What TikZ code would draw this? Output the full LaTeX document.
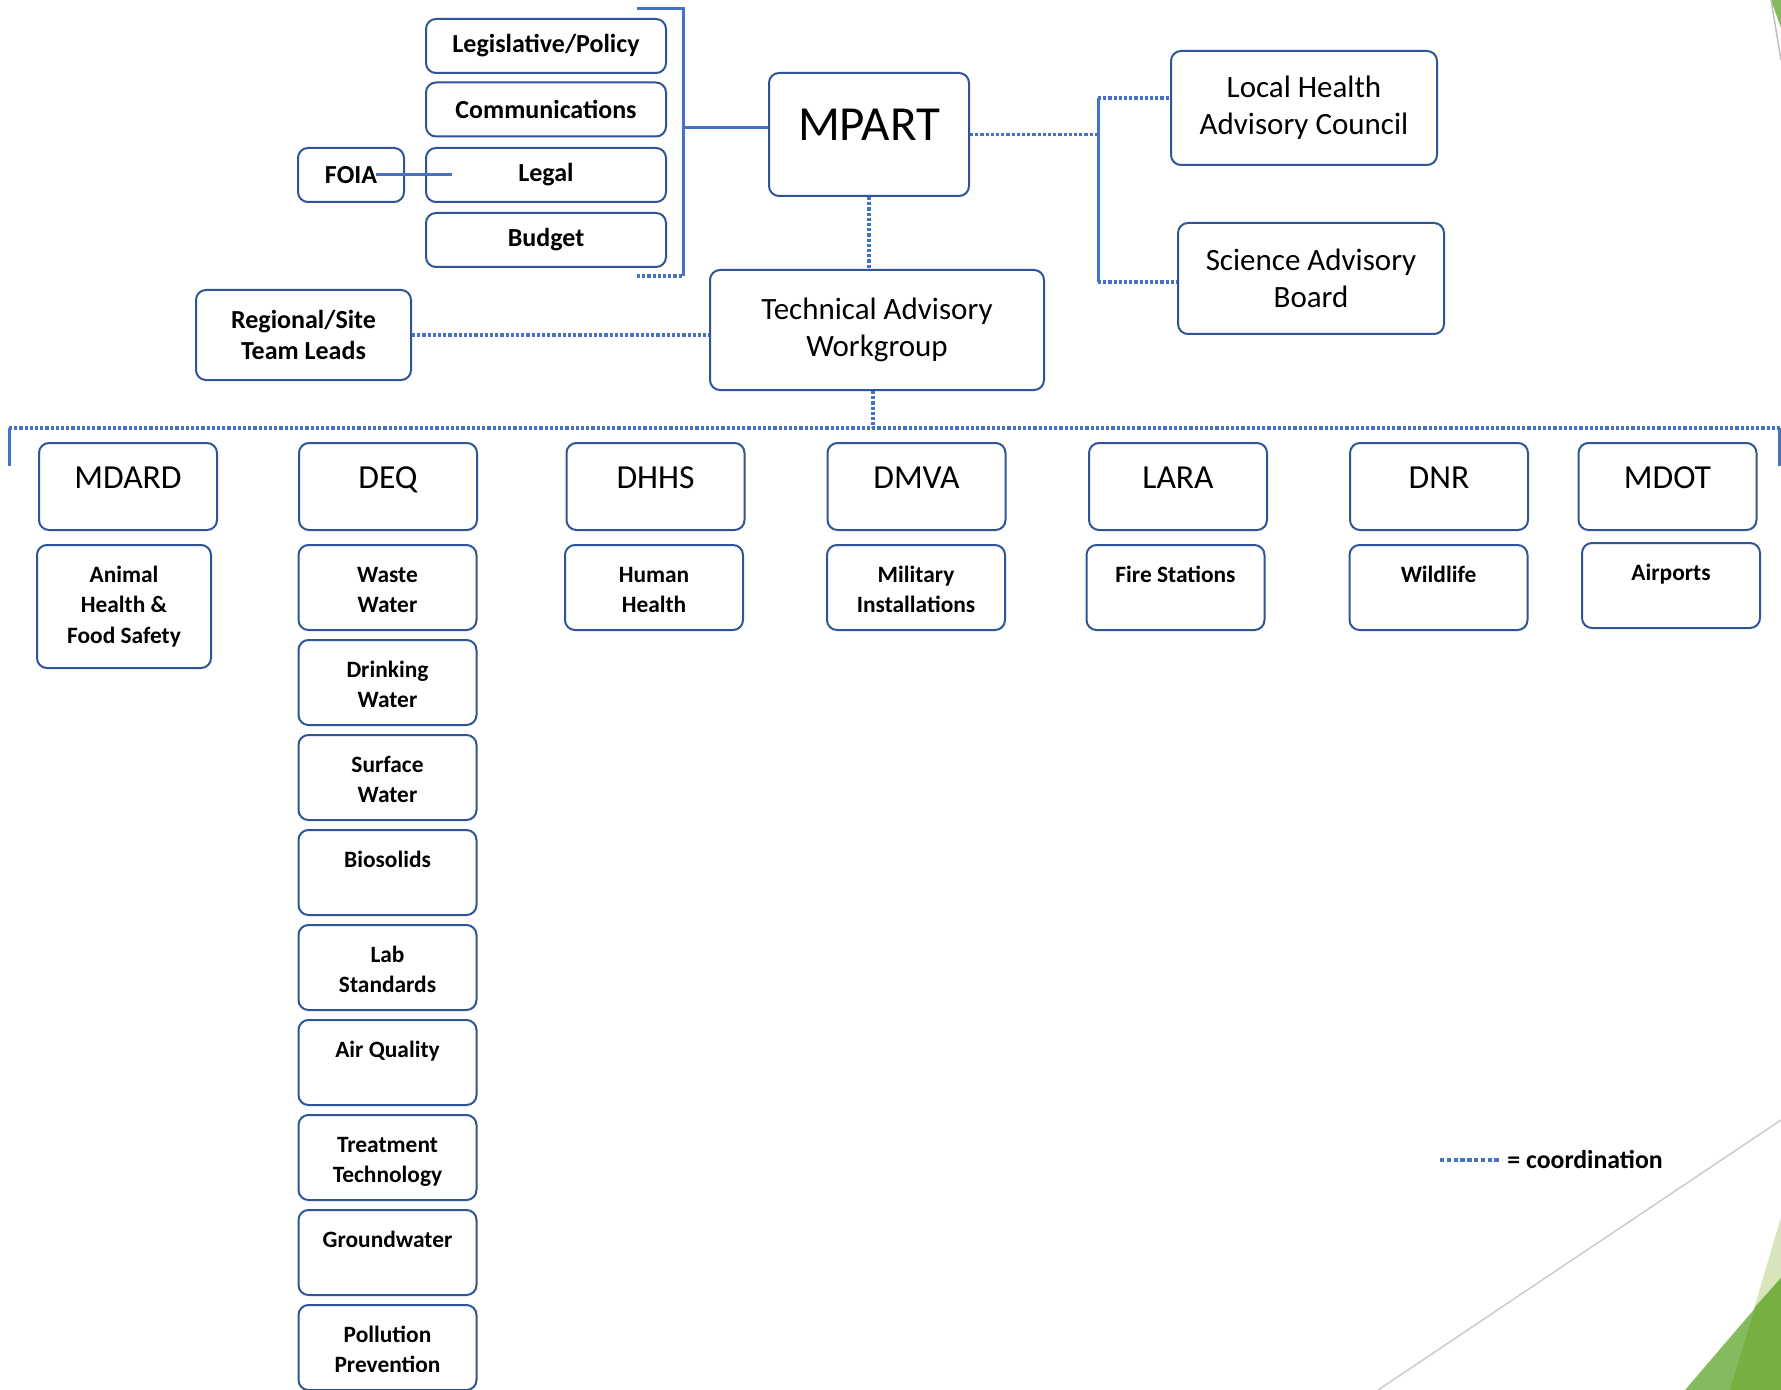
\documentclass[tikz,border=0pt]{standalone}
\usepackage{fontspec}
\setmainfont{Carlito}
\definecolor{lineblue}{HTML}{4472C4}
\definecolor{boxblue}{HTML}{2F5597}
\definecolor{leafpale}{HTML}{D8E4BC}
\definecolor{leafmid}{HTML}{84BB5F}
\definecolor{leafdark}{HTML}{76B043}
\tikzstyle{box}=[draw=boxblue, line width=1pt, rounded corners=5pt, align=center, inner sep=0pt]
\tikzstyle{topbox}=[box, minimum width=120pt, minimum height=27pt, font=\fontsize{13}{15.5}\selectfont\bfseries]
\tikzstyle{council}=[box, font=\fontsize{15.5}{18.5}\selectfont]
\tikzstyle{agency}=[box, minimum width=89pt, text height=22.5pt, text depth=21pt, font=\fontsize{16.8}{20}\selectfont]
\tikzstyle{unit}=[box, minimum width=89pt, text height=18.5pt, text depth=24pt, font=\fontsize{11.7}{15.3}\selectfont\bfseries]
\tikzstyle{unittwo}=[unit, text height=33.8pt, text depth=8.7pt]
\tikzstyle{solidln}=[lineblue, line width=1.5pt]
\tikzstyle{dotln}=[lineblue, line width=1.6pt, dash pattern=on 1.6pt off 1pt]

\begin{document}
\begin{tikzpicture}[x=0.5pt, y=-0.5pt, node distance=47.5pt]
            \fill[white] (0,0) rectangle (1781,1390);
            \useasboundingbox (0,0) rectangle (1781,1390);
            \fill[leafmid] (1771,0) -- (1781,0) -- (1781,28) -- cycle;
            \draw[gray!50, line width=0.75pt] (1771,0) -- (1781,60);
            \draw[gray!40, line width=0.75pt] (1378,1390) -- (1781,1120);
            \fill[leafpale] (1781,1217) -- (1730,1390) -- (1781,1390) -- cycle;
            \fill[leafmid] (1685,1390) -- (1781,1278) -- (1781,1390) -- cycle;
            \fill[leafdark] (1755,1307) -- (1781,1278) -- (1781,1390) -- (1730,1390) -- cycle;

            \node[topbox] at (546,46) (legis) {Legislative/Policy};
            \node[topbox] at (546,109.5) (comms) {Communications};
            \node[topbox] at (546,175) (legal) {Legal};
            \node[topbox] at (546,240) (budget) {Budget};
            \node[topbox, minimum width=53pt] at (351,175) (foia) {FOIA};
            \node[box, minimum width=100pt, text height=34pt, text depth=27.5pt, font=\fontsize{24.5}{28}\selectfont] at (869,134.5) (mpart) {MPART};
            \node[council, minimum width=133pt, minimum height=57pt] at (1304,108) (lhac) {Local Health\\Advisory Council};
            \node[council, minimum width=133pt, minimum height=55.5pt] at (1311,278.5) (sab) {Science Advisory\\Board};
            \node[council, minimum width=167pt, minimum height=60pt] at (877,330) (taw) {Technical Advisory\\Workgroup};
            \node[topbox, minimum width=107.5pt, minimum height=45pt] at (303.5,335) (rstl) {Regional/Site\\Team Leads};

            \node[agency] at (128,486.5) (mdard) {MDARD};
            \node[agency] at (388,486.5) (deq) {DEQ};
            \node[agency] at (655.5,486.5) (dhhs) {DHHS};
            \node[agency] at (916.5,486.5) (dmva) {DMVA};
            \node[agency] at (1178,486.5) (lara) {LARA};
            \node[agency] at (1439,486.5) (dnr) {DNR};
            \node[agency] at (1667.5,486.5) (mdot) {MDOT};

            \node[unit, minimum width=87pt, text height=49.1pt, text depth=12.4pt] at (124,606.5) (animal) {Animal\\Health \&\\Food Safety};
            \node[unittwo] at (387.5,587.5) (waste) {Waste\\Water};
            \node[unittwo] at (654,587.5) (human) {Human\\Health};
            \node[unittwo] at (916,587.5) (military) {Military\\Installations};
            \node[unit] at (1175.5,587.5) (fire) {Fire Stations};
            \node[unit] at (1438.5,587.5) (wildlife) {Wildlife};
            \node[unit] at (1671,585.5) (airports) {Airports};
            \node[unittwo, below of=waste] (drink) {Drinking\\Water};
            \node[unittwo, below of=drink] (surface) {Surface\\Water};
            \node[unit, below of=surface] (bio) {Biosolids};
            \node[unittwo, below of=bio] (lab) {Lab\\Standards};
            \node[unit, below of=lab] (air) {Air Quality};
            \node[unittwo, below of=air] (treat) {Treatment\\Technology};
            \node[unit, below of=treat] (ground) {Groundwater};
            \node[unittwo, below of=ground] (pollution) {Pollution\\Prevention};

            \coordinate (brtl) at (637,9);
            \coordinate (brtop) at (683,9);
            \coordinate (brmid) at (683,128);
            \coordinate (brbot) at (683,276);
            \coordinate (brbl) at (637,276);
            \draw[solidln] (brtl) -- (brtop) -- (brbot);
            \draw[dotln] (brbl) -- (brbot);
            \draw[solidln] (brmid) -- (brmid -| mpart.west);
            \draw[solidln] ([xshift=-14.5pt]foia.east) -- ([xshift=-47pt]legal.center);

            \coordinate (rtop) at (1098,98);
            \coordinate (rbot) at (1098,282);
            \draw[dotln] (mpart.east) -- (mpart.east -| rtop);
            \draw[solidln] (rtop) -- (rbot);
            \draw[dotln] (rtop) -- (rtop -| lhac.west);
            \draw[dotln] (rbot) -- (rbot -| sab.west);

            \draw[dotln] (mpart.south) -- (mpart.south |- taw.north);
            \draw[dotln] (rstl.east) -- (rstl.east -| taw.west);

            \coordinate (bus) at (873,428);
            \coordinate (busl) at (9,428);
            \coordinate (busr) at (1781,428);
            \coordinate (busld) at (9,466);
            \coordinate (busru) at (1779,428);
            \coordinate (busrd) at (1779,466);
            \draw[dotln] (taw.south -| bus) -- (bus);
            \draw[dotln] (busl) -- (busr);
            \draw[solidln] (busl) -- (busld);
            \draw[solidln] (busru) -- (busrd);

            \coordinate (legs) at (1440,1160);
            \node[anchor=west, inner xsep=4pt, inner ysep=0pt, font=\fontsize{12.9}{15}\selectfont\bfseries] at (1499,1160) (legtxt) {= coordination};
            \draw[dotln, line width=2.2pt, dash pattern=on 2.2pt off 1.2pt] (legs) -- (legtxt.west);
        \end{tikzpicture}
\end{document}
